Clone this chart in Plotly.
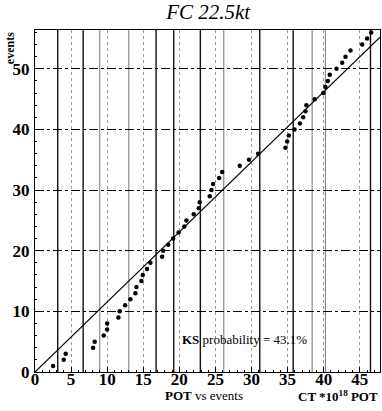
import plotly.graph_objects as go

# cumulative event count vs accumulated POT (x 10^18)
event_pot = [2.51, 3.98, 4.25, 8.05, 8.27, 9.52, 9.99, 10.0, 11.56, 11.74,
             12.49, 13.22, 13.91, 14.05, 14.74, 14.93, 15.53, 15.99, 17.61, 17.75,
             18.45, 19.14, 19.9, 20.7, 20.98, 21.99, 22.69, 22.82, 24.21, 24.45,
             24.68, 25.51, 25.93, 28.37, 29.64, 30.9, 34.7, 34.94, 35.16, 35.95,
             36.7, 37.15, 37.47, 37.6, 38.76, 39.95, 40.24, 40.56, 40.84, 41.77,
             42.56, 43.02, 43.71, 45.33, 46.02, 46.58]
event_count = list(range(1, len(event_pot) + 1))

# expected rate (events per 10^18 POT) for the straight line
expected_rate = 1.155
line_pot = [0, 47.8]

# run boundaries
run_edges = [3.15, 6.67, 8.97, 12.99, 16.78, 19.22, 22.91, 26.15, 31.14,
             35.77, 38.40, 40.24, 46.48]
run_dark = [True, True, False, False, True, True, True, False, True,
            True, False, False, True]

x_ticks = [0, 5, 10, 15, 20, 25, 30, 35, 40, 45]
y_ticks = [0, 10, 20, 30, 40, 50]
ks_prob = 43.1

SERIF = "Liberation Serif"

fig = go.Figure()

for xe, dark in zip(run_edges, run_dark):
    fig.add_vline(x=xe, line=dict(color="#111111" if dark else "#8a8a8a",
                                  width=1.4 if dark else 1.2), layer="below")

fig.add_trace(go.Scatter(
    x=line_pot, y=[expected_rate * v for v in line_pot], mode="lines",
    line=dict(color="black", width=1.2), hoverinfo="skip", showlegend=False))

fig.add_trace(go.Scatter(
    x=event_pot, y=event_count, mode="markers",
    marker=dict(color="black", size=4.5), showlegend=False))

fig.update_layout(
    width=382, height=411,
    margin=dict(l=35, r=2, t=30, b=39),
    paper_bgcolor="white", plot_bgcolor="white",
    title=dict(text="<i>FC 22.5kt</i>", x=0.545, xanchor="center",
               y=0.972, yanchor="middle",
               font=dict(family=SERIF, size=21, color="black")),
    xaxis=dict(range=[0, 47.8], tickvals=x_ticks, showline=True, mirror=True,
               linecolor="black", linewidth=1, ticks="inside", ticklen=5,
               tickcolor="black", zeroline=False,
               showgrid=True, gridcolor="#9a9a9a", griddash="dot", gridwidth=1,
               minor=dict(dtick=1, ticks="inside", ticklen=2, tickcolor="black",
                          showgrid=False),
               tickfont=dict(family=SERIF, size=17, color="black", weight="bold"),
               ticklabelstandoff=-8),
    yaxis=dict(range=[0, 56.4], tickvals=y_ticks, showline=True, mirror=True,
               linecolor="black", linewidth=1, ticks="inside", ticklen=5,
               tickcolor="black", zeroline=False,
               showgrid=True, gridcolor="black", griddash="dashdot", gridwidth=1,
               minor=dict(dtick=2, ticks="inside", ticklen=2, tickcolor="black",
                          showgrid=False),
               tickfont=dict(family=SERIF, size=17, color="black", weight="bold"),
               ticklabelstandoff=1),
    annotations=[
        dict(text="<b>events</b>", xref="paper", yref="paper", x=-0.072, y=1.0,
             xanchor="center", yanchor="top", textangle=-90, showarrow=False,
             font=dict(family=SERIF, size=12, color="black")),
        dict(text="<b>POT</b> vs events", xref="paper", yref="paper", x=0.49,
             y=-0.042, xanchor="center", yanchor="top", showarrow=False,
             font=dict(family=SERIF, size=13, color="black")),
        dict(text="<b>CT *10<sup>18</sup> POT</b>", xref="paper", yref="paper",
             x=1.0, y=-0.042, xanchor="right", yanchor="top", showarrow=False,
             font=dict(family=SERIF, size=13, color="black")),
        dict(text=f"<b>KS</b> probability = {ks_prob}%", xref="paper",
             yref="paper", x=0.42, y=0.095, xanchor="left", yanchor="middle",
             showarrow=False, font=dict(family=SERIF, size=13, color="black")),
    ],
)

fig.write_html("out.html", config={"displayModeBar": False},
               post_script="document.body.style.margin='0';")
